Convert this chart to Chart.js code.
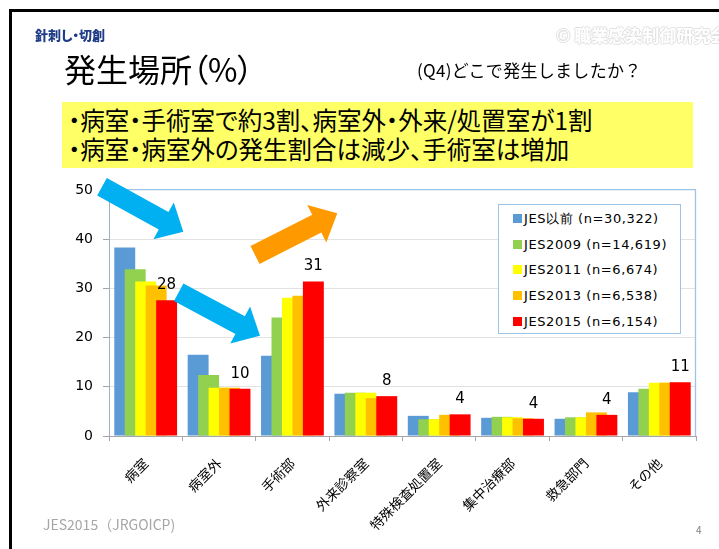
<!DOCTYPE html>
<html><head><meta charset="utf-8">
<script src="https://cdn.jsdelivr.net/npm/chart.js@4.4.1/dist/chart.umd.min.js"></script>
<style>
html,body{margin:0;padding:0;background:#fff;width:719px;height:549px;overflow:hidden;position:relative;font-family:"Noto Sans CJK JP",sans-serif;}
#frame{position:absolute;left:9px;top:9px;width:720px;height:550px;border-left:3px solid #000;border-top:3px solid #000;}
#c{position:absolute;left:0;top:0;}
.t{position:absolute;white-space:nowrap;}
.p{font-feature-settings:"palt";}
#tag{left:35px;top:25px;font-size:13px;font-weight:900;color:#1F3C88;}
#wm{left:556px;top:22px;font-size:17px;font-weight:bold;color:#fff;text-shadow:-1px 0 #e2e2e2,1px 0 #e2e2e2,0 -1px #e2e2e2,0 1px #e2e2e2;}
#title{left:64px;top:45px;font-size:32px;color:#000;}
#q{left:417px;top:57px;font-size:17px;letter-spacing:0.3px;color:#000;}
#box{position:absolute;left:62px;top:102px;width:631px;height:66px;background:#FFFF66;}
#box div{position:absolute;left:6px;font-size:24.5px;line-height:28px;color:#000;white-space:nowrap;font-feature-settings:"palt";}
#src{left:43px;top:514px;font-size:14px;color:#A6A6A6;}
#pg{left:696px;top:522px;font-size:10px;color:#7f7f7f;}
#legend{position:absolute;left:498px;top:204px;width:181px;height:128px;border:1px solid #9DC3E6;background:#fff;}
.li{position:absolute;left:14px;font-family:"DejaVu Sans",sans-serif;font-size:13px;letter-spacing:0.6px;color:#000;white-space:nowrap;height:18px;line-height:18px;}
.li span{display:inline-block;width:9px;height:9px;margin-right:2px;vertical-align:0px;}
#arrows{position:absolute;left:0;top:0;pointer-events:none;}
</style></head>
<body>
<div id="frame"></div>
<canvas id="c" width="719" height="549"></canvas>
<div class="t p" id="tag">針刺し・切創</div>
<div class="t" id="wm">© 職業感染制御研究会</div>
<div class="t p" id="title">発生場所（%）</div>
<div class="t" id="q">(Q4)どこで発生しましたか？</div>
<div id="box"><div style="top:4px">・病室・手術室で約3割、病室外・外来/処置室が1割</div><div style="top:33px">・病室・病室外の発生割合は減少、手術室は増加</div></div>
<div id="legend"></div>
<svg id="arrows" width="719" height="549"></svg>
<div class="t" id="src">JES2015（JRGOICP)</div>
<div class="t" id="pg">4</div>
<script>
// ---- data ----
const categories = ['病室','病室外','手術部','外来診察室','特殊検査処置室','集中治療部','救急部門','その他'];
const seriesNames = ['JES以前 (n=30,322)','JES2009 (n=14,619)','JES2011 (n=6,674)','JES2013 (n=6,538)','JES2015 (n=6,154)'];
const jesBefore = [38.3,16.5,16.3,8.6,4.1,3.7,3.5,8.9];
const jes2009   = [33.9,12.4,24.1,8.8,3.4,3.9,3.8,9.6];
const jes2011   = [31.4,9.8,28.1,8.8,3.4,3.8,3.8,10.8];
const jes2013   = [30.6,9.8,28.5,7.7,4.3,3.6,4.8,10.8];
const jes2015   = [27.6,9.6,31.4,8.1,4.4,3.5,4.3,10.9];
const yMin = 0, yMax = 50, yStep = 10;
// ---- styles ----
const seriesColors = ['#5B9BD5','#92D050','#FFFF00','#FFC000','#FF0000'];
const allSeries = [jesBefore,jes2009,jes2011,jes2013,jes2015];

// legend (HTML)
const lg = document.getElementById('legend');
seriesNames.forEach((n,i)=>{
  const d=document.createElement('div'); d.className='li'; d.style.top=(5+i*25.7)+'px';
  d.innerHTML='<span style="background:'+seriesColors[i]+'"></span>'+n; lg.appendChild(d);
});

// decorative arrows
function arrow(tx,ty,hx,hy,w,W,L,color){
  const len=Math.hypot(hx-tx,hy-ty), ang=Math.atan2(hy-ty,hx-tx)*180/Math.PI;
  const p=`M0,${-w/2} L${len-L},${-w/2} L${len-L},${-W/2} L${len},0 L${len-L},${W/2} L${len-L},${w/2} L0,${w/2} Z`;
  return `<path d="${p}" fill="${color}" transform="translate(${tx},${ty}) rotate(${ang})"/>`;
}
document.getElementById('arrows').innerHTML =
  arrow(102,186.7,183.3,231.7,20,42,22.5,'#00B0F0')+
  arrow(178.7,292.2,260,335.7,20,42,22.5,'#00B0F0')+
  arrow(255,255,337.3,213.3,20,42,23,'#FF9900');

const drawInOrder = {
  id:'drawInOrder',
  beforeDatasetsDraw(chart){
    const ctx=chart.ctx, a=chart.chartArea;
    ctx.save(); ctx.beginPath(); ctx.rect(a.left,a.top-1,a.width,a.height+1); ctx.clip();
    chart.data.datasets.forEach((d,i)=>{ if(chart.isDatasetVisible(i)) chart.getDatasetMeta(i).controller.draw(); });
    ctx.restore();
    ctx.save(); ctx.strokeStyle='#9DC3E6'; ctx.lineWidth=1.3; ctx.beginPath();
    ctx.moveTo(a.right-0.5,a.top); ctx.lineTo(a.right-0.5,a.bottom); ctx.stroke(); ctx.restore();
    const meta=chart.getDatasetMeta(chart.data.datasets.length-1);
    ctx.save(); ctx.font='15px "DejaVu Sans"'; ctx.fillStyle='#000'; ctx.textAlign='center'; ctx.textBaseline='middle';
    meta.data.forEach((el,j)=>ctx.fillText(String(Math.round(jes2015[j])), el.x, el.y-15));
    ctx.restore();
    return false;
  }
};

new Chart(document.getElementById('c'),{
  type:'bar',
  data:{labels:categories,datasets:allSeries.map((s,i)=>({label:seriesNames[i],data:s,backgroundColor:seriesColors[i],borderWidth:0,categoryPercentage:0.713,barPercentage:2.0}))},
  options:{
    responsive:false,animation:false,
    layout:{padding:{left:49,top:190,right:23,bottom:13}},
    plugins:{legend:{display:false},tooltip:{enabled:false}},
    scales:{
      x:{
        afterFit:s=>{s.height=100;},
        grid:{display:true,drawOnChartArea:false,drawTicks:true,tickLength:5,color:'#A6A6A6',offset:true},
        border:{display:true,color:'#A6A6A6',width:1},
        ticks:{font:{family:'"Noto Sans CJK JP"',size:13.5},color:'#000',minRotation:45,maxRotation:45,padding:14,autoSkip:false}
      },
      y:{
        min:yMin,max:yMax,
        afterFit:s=>{s.width=60;},
        grid:{color:c=>c.tick&&c.tick.value===yMax?'#9DC3E6':'#E2E2E2',tickColor:'#A6A6A6',tickLength:6,lineWidth:c=>c.tick&&c.tick.value===yMax?1.3:1},
        border:{display:true,color:'#9EAFC4',width:1},
        ticks:{stepSize:yStep,font:{family:'"DejaVu Sans"',size:14},color:'#000',padding:10}
      }
    }
  },
  plugins:[drawInOrder]
});
</script>
</body></html>
